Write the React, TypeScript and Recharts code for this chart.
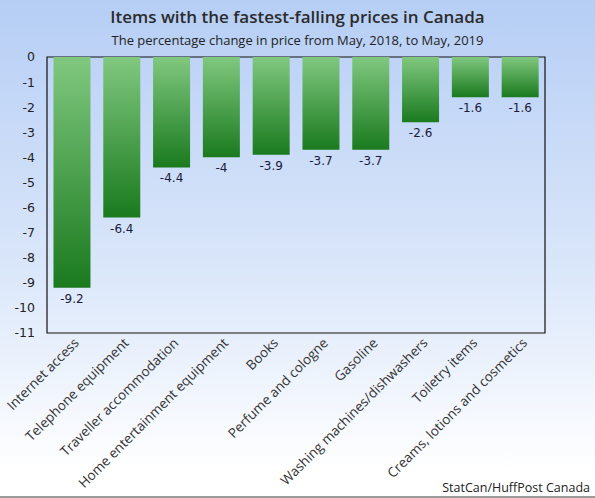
import React from "react";
import { BarChart, Bar, XAxis, YAxis, ReferenceArea, LabelList } from "recharts";

const categories = [
  "Internet access",
  "Telephone equipment",
  "Traveller accommodation",
  "Home entertainment equipment",
  "Books",
  "Perfume and cologne",
  "Gasoline",
  "Washing machines/dishwashers",
  "Toiletry items",
  "Creams, lotions and cosmetics",
];
const values = [-9.2, -6.4, -4.4, -4, -3.9, -3.7, -3.7, -2.6, -1.6, -1.6];
const yTicks = [0, -1, -2, -3, -4, -5, -6, -7, -8, -9, -10, -11];

const data = categories.map((name, i) => ({ name, value: values[i] }));

const FONT = "'Open Sans', sans-serif";
const TICK_FONT = "'DejaVu Sans', Verdana, sans-serif";

const XTick = (props: any) => {
  const { x, y, payload } = props;
  const tx = x + 3;
  const ty = y - 5;
  return (
    <text
      x={tx}
      y={ty}
      transform={`rotate(-45, ${tx}, ${ty})`}
      textAnchor="end"
      dy={9}
      dx={-2}
      fontFamily={FONT}
      fontSize={13.5}
      fill="#333"
    >
      {payload.value}
    </text>
  );
};

const ValueLabel = (props: any) => {
  const { x, y, width, height, value } = props;
  const bottom = Math.max(y, y + height);
  return (
    <text
      x={x + width / 2}
      y={bottom + 15}
      textAnchor="middle"
      fontFamily={TICK_FONT}
      fontSize={12}
      fill="#1a1a3a"
    >
      {value}
    </text>
  );
};

export default function App() {
  return (
    <div
      style={{
        position: "absolute",
        left: 0,
        top: 0,
        width: 595,
        height: 498,
        background: "linear-gradient(#b6cef5 0%, #dbe7fa 55%, #ffffff 95%)",
        boxSizing: "border-box",
        borderBottom: "2px solid #9a9a9a",
        overflow: "hidden",
      }}
    >
      <div
        style={{
          position: "absolute",
          top: 5,
          width: 595,
          textAlign: "center",
          fontFamily: FONT,
          fontSize: 17,
          fontWeight: 600,
          color: "#2b2b2b",
        }}
      >
        Items with the fastest-falling prices in Canada
      </div>
      <div
        style={{
          position: "absolute",
          top: 31,
          width: 595,
          textAlign: "center",
          fontFamily: FONT,
          fontSize: 13,
          color: "#222",
        }}
      >
        The percentage change in price from May, 2018, to May, 2019
      </div>
      <div
        style={{
          position: "absolute",
          right: 5,
          top: 479,
          fontFamily: FONT,
          fontSize: 12.5,
          color: "#222",
        }}
      >
        StatCan/HuffPost Canada
      </div>
      <div style={{ position: "absolute", left: 0, top: 0 }}>
        <BarChart
          width={595}
          height={498}
          data={data}
          margin={{ top: 57, right: 50, bottom: 0, left: 0 }}
          barCategoryGap="13%"
        >
          <defs>
            <linearGradient id="barGrad" x1="0" y1="0" x2="0" y2="1">
              <stop offset="0%" stopColor="#80c87f" />
              <stop offset="100%" stopColor="#1a7a1e" />
            </linearGradient>
          </defs>
          <XAxis
            dataKey="name"
            interval={0}
            height={165}
            tick={<XTick />}
            tickLine={false}
            axisLine={false}
          />
          <YAxis
            width={47}
            domain={[-11, 0]}
            ticks={yTicks}
            interval={0}
            tickLine={false}
            axisLine={false}
            tick={{ fontFamily: TICK_FONT, fontSize: 12.5, fill: "#222" }}
            tickMargin={6}
          />
          <ReferenceArea y1={-11} y2={0} fill="none" stroke="#111" strokeWidth={1.2} ifOverflow="visible" />
          <Bar dataKey="value" fill="url(#barGrad)" isAnimationActive={false}>
            <LabelList dataKey="value" content={<ValueLabel />} />
          </Bar>
        </BarChart>
      </div>
    </div>
  );
}
